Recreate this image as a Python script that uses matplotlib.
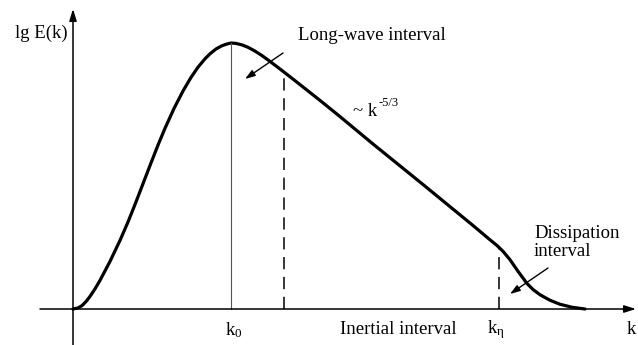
import matplotlib
matplotlib.use("Agg")
import matplotlib.pyplot as plt

plt.rcParams['font.family'] = ['Liberation Serif', 'DejaVu Serif']
plt.rcParams['mathtext.fontset'] = 'custom'
plt.rcParams['mathtext.rm'] = 'Liberation Serif'
plt.rcParams['mathtext.it'] = 'Liberation Serif:italic'

# spectrum curve
k = [0, 5, 9, 13, 17, 22, 27, 37, 47, 55, 62, 70, 77, 85, 92, 101, 110, 118,
     125, 132, 137, 143, 149, 154, 158, 163, 169, 175, 182, 189, 197, 204, 211,
     219, 227, 247, 267, 300, 350, 400, 417, 424, 430, 437, 445, 454, 460, 467,
     477, 487, 499, 512]
E = [0, 1, 3.4, 7.4, 12.6, 20.1, 28.6, 47.6, 68.6, 87, 104.5, 125.3, 143.5, 163.9,
     180.7, 200.5, 218, 231.6, 241.8, 250.2, 255.2, 260, 263.3, 265, 266, 265.6,
     264.1, 261.7, 257.9, 253.4, 247.6, 242.3, 236.9, 230.7, 224.4, 208.6, 192.4,
     165, 124.5, 83.5, 69.2, 63.5, 57.7, 49.3, 37.7, 25.5, 19.5, 14.25, 8.75, 4.75,
     1.75, 0]

k0, e_peak = 158, 266
k_long, e_long = 211, 234
k_eta, e_eta = 426, 61

fig = plt.figure(figsize=(6.38, 3.45), dpi=100)
ax = fig.add_axes([0, 0, 1, 1])
ax.set_xlim(-73, 565)
ax.set_ylim(-36, 309)
ax.axis('off')

# axes with arrows
arrow_kw = dict(arrowstyle='-|>,head_length=0.7,head_width=0.22', color='black', lw=1.1,
                shrinkA=0, shrinkB=0)
ax.annotate('', xy=(563, 0), xytext=(-33, 0), arrowprops=arrow_kw)
ax.annotate('', xy=(0, 300), xytext=(0, -36), arrowprops=arrow_kw)

ax.plot(k, E, color='black', lw=2.3, solid_joinstyle='round', solid_capstyle='round')

ax.plot([k0, k0], [0, e_peak], color='#555555', lw=0.8)
ax.plot([k_long, k_long], [0, e_long], color='black', lw=1.1, dashes=(8, 5))
ax.plot([k_eta, k_eta], [0, e_eta], color='black', lw=1.1, dashes=(8, 5))

fs = 13.5
ax.text(-5, 276, 'lg E(k)', ha='right', va='center', fontsize=fs)
ax.text(225, 274, 'Long-wave interval', ha='left', va='center', fontsize=fs)
ax.text(280, 197, '~ k', ha='left', va='center', fontsize=fs)
ax.text(306, 206, '-5/3', ha='left', va='center', fontsize=9)
ax.text(461, 75, 'Dissipation', ha='left', va='center', fontsize=fs)
ax.text(461, 58, 'interval', ha='left', va='center', fontsize=fs)
ax.text(161, -21, r'k$_{\mathrm{0}}$', ha='center', va='center', fontsize=fs)
ax.text(325, -21, 'Inertial interval', ha='center', va='center', fontsize=fs)
ax.text(423, -21, r'k$_{\mathrm{\eta}}$', ha='center', va='center', fontsize=fs)
ax.text(558, -21, 'k', ha='center', va='center', fontsize=fs)

pointer_kw = dict(arrowstyle='-|>,head_length=0.6,head_width=0.2', color='black', lw=1.0,
                  shrinkA=0, shrinkB=0)
ax.annotate('', xy=(172, 230), xytext=(210, 256), arrowprops=pointer_kw)
ax.annotate('', xy=(437, 15), xytext=(475, 41), arrowprops=pointer_kw)

fig.savefig('out.png', dpi=100, facecolor='white')
